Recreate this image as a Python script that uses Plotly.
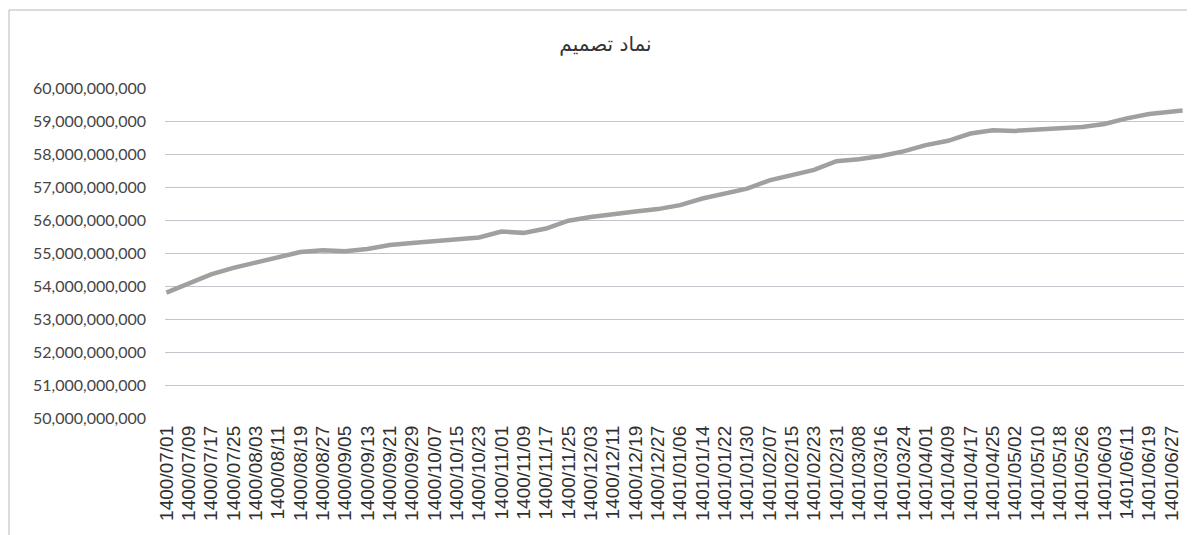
import plotly.graph_objects as go

# ---- data ----
title_text = "نماد تصمیم"

# Persian calendar months covered (year, month, days in month)
month_spans = [(1400, 7, 30), (1400, 8, 30), (1400, 9, 30), (1400, 10, 30), (1400, 11, 30),
               (1400, 12, 29), (1401, 1, 31), (1401, 2, 31), (1401, 3, 31), (1401, 4, 31),
               (1401, 5, 31), (1401, 6, 31)]

tick_labels = [
    "1400/07/01", "1400/07/09", "1400/07/17", "1400/07/25", "1400/08/03", "1400/08/11",
    "1400/08/19", "1400/08/27", "1400/09/05", "1400/09/13", "1400/09/21", "1400/09/29",
    "1400/10/07", "1400/10/15", "1400/10/23", "1400/11/01", "1400/11/09", "1400/11/17",
    "1400/11/25", "1400/12/03", "1400/12/11", "1400/12/19", "1400/12/27", "1401/01/06",
    "1401/01/14", "1401/01/22", "1401/01/30", "1401/02/07", "1401/02/15", "1401/02/23",
    "1401/02/31", "1401/03/08", "1401/03/16", "1401/03/24", "1401/04/01", "1401/04/09",
    "1401/04/17", "1401/04/25", "1401/05/02", "1401/05/10", "1401/05/18", "1401/05/26",
    "1401/06/03", "1401/06/11", "1401/06/19", "1401/06/27",
]

sample_dates = tick_labels + ["1401/06/31"]

values = [
    53.80e9, 54.09e9, 54.35e9, 54.55e9, 54.71e9, 54.88e9,
    55.03e9, 55.08e9, 55.05e9, 55.12e9, 55.24e9, 55.30e9,
    55.35e9, 55.40e9, 55.47e9, 55.65e9, 55.61e9, 55.74e9,
    55.98e9, 56.09e9, 56.19e9, 56.26e9, 56.33e9, 56.45e9,
    56.65e9, 56.80e9, 56.95e9, 57.20e9, 57.36e9, 57.52e9,
    57.78e9, 57.84e9, 57.94e9, 58.08e9, 58.27e9, 58.40e9,
    58.62e9, 58.72e9, 58.70e9, 58.73e9, 58.77e9, 58.82e9,
    58.91e9, 59.08e9, 59.21e9, 59.28e9, 59.32e9,
]

y_ticks = [50e9, 51e9, 52e9, 53e9, 54e9, 55e9, 56e9, 57e9, 58e9, 59e9, 60e9]

# full daily category axis
all_days = [f"{y}/{m:02d}/{d:02d}" for (y, m, n) in month_spans for d in range(1, n + 1)]

fig = go.Figure()
fig.add_trace(go.Scatter(
    x=sample_dates, y=values, mode="lines",
    line=dict(color="#a0a0a0", width=4.5, shape="linear"),
    hoverinfo="skip", showlegend=False,
))

W, H = 1195, 535
ml, mr, mt, mb = 157, 19, 80, 125
pw, ph = W - ml - mr, H - mt - mb

fig.update_layout(
    width=W, height=H,
    margin=dict(l=ml, r=mr, t=mt, b=mb),
    paper_bgcolor="white", plot_bgcolor="white",
    title=dict(text=title_text, x=0.5, xanchor="center", y=1 - 36 / H, yanchor="middle",
               font=dict(family="DejaVu Sans", size=20, color="#333333")),
    xaxis=dict(
        type="category", categoryorder="array", categoryarray=all_days,
        range=[-0.5, len(all_days) - 0.5],
        tickmode="array", tickvals=tick_labels, ticktext=tick_labels,
        tickangle=-90, showgrid=False, zeroline=False, showline=False,
        ticks="", ticklabelstandoff=3,
        tickfont=dict(family="Liberation Sans, Arial", size=19, color="#303030"),
    ),
    yaxis=dict(
        range=[50e9, 60e9], tickmode="array", tickvals=y_ticks,
        tickformat=",.0f", showgrid=True, gridcolor="#c4c4cc", gridwidth=1,
        zeroline=False, showline=False, ticks="", ticklabelstandoff=18,
        tickfont=dict(family="Lato", size=16, color="#454545"),
    ),
    shapes=[dict(
        type="rect", xref="paper", yref="paper",
        x0=(1 - ml) / pw, x1=(1183 - ml) / pw,
        y0=(H - mb - 560) / ph, y1=(H - mb - 2) / ph,
        line=dict(color="#b8b8b8", width=1), fillcolor="rgba(0,0,0,0)", layer="below",
    )],
)

fig.write_html("out.html")
